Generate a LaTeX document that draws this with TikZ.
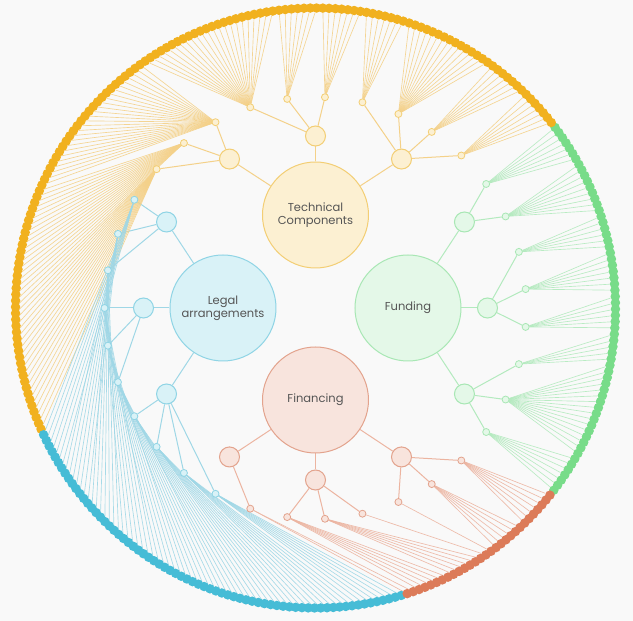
\documentclass[tikz,border=0pt]{standalone}
\usepackage{fontspec}
\setmainfont{Poppins}
\usetikzlibrary{calc}
\definecolor{pagebg}{HTML}{F9F9F9}
\definecolor{txtgray}{HTML}{555555}
\definecolor{techdot}{HTML}{F1B11F}
\definecolor{techline}{HTML}{F4D189}
\definecolor{techfill}{HTML}{FCF0D2}
\definecolor{techedge}{HTML}{F3CE74}
\definecolor{legaldot}{HTML}{46BCD6}
\definecolor{legalline}{HTML}{9FD7E6}
\definecolor{legalfill}{HTML}{D9F2F7}
\definecolor{legaledge}{HTML}{8FD4E5}
\definecolor{funddot}{HTML}{78DC89}
\definecolor{fundline}{HTML}{B3EABE}
\definecolor{fundfill}{HTML}{E4F8E8}
\definecolor{fundedge}{HTML}{A8E7B4}
\definecolor{findot}{HTML}{DC7B59}
\definecolor{finline}{HTML}{ECB4A0}
\definecolor{finfill}{HTML}{F8E4DD}
\definecolor{finedge}{HTML}{E3A38D}
\pgfdeclarelayer{back}
\pgfdeclarelayer{edges}
\pgfsetlayers{back,edges,main}
\newcount\leafno
\def\branchlist{0/fund/funding, 1/fund/funding, 2/tech/tc, 3/tech/tc, 4/tech/tc, 5/legal/legal, 6/legal/legal, 7/legal/legal, 8/fin/financing, 9/fin/financing, 10/fin/financing, 11/fund/funding}
\def\twiglist{0/0/fund, 1/0/fund, 2/1/fund, 3/1/fund, 4/2/tech, 5/2/tech, 6/2/tech, 7/2/tech, 8/3/tech, 9/3/tech, 10/3/tech, 11/4/tech, 12/4/tech, 13/4/tech, 14/5/legal, 15/5/legal, 16/5/legal, 17/6/legal, 18/6/legal, 19/6/legal, 20/7/legal, 21/7/legal, 22/7/legal, 23/7/legal, 24/8/fin, 25/9/fin, 26/9/fin, 27/9/fin, 28/10/fin, 29/10/fin, 30/10/fin, 31/11/fund, 32/11/fund, 33/11/fund, 34/0/fund}
\def\leaflist{31/7/fund, 32/16/fund, 33/5/fund, 34/6/fund, 0/7/fund, 1/6/fund, 2/9/fund, 3/7/fund,
  4/7/tech, 5/7/tech, 6/15/tech, 7/7/tech, 8/7/tech, 9/7/tech, 10/23/tech, 11/26/tech, 12/19/tech, 13/21/tech,
  14/7/legal, 15/7/legal, 16/7/legal, 17/7/legal, 18/6/legal, 19/7/legal, 20/6/legal, 21/8/legal, 22/7/legal, 23/7/legal,
  24/2/fin, 25/6/fin, 26/6/fin, 27/1/fin, 28/1/fin, 29/6/fin, 30/7/fin}

\begin{document}
\begin{tikzpicture}[x=1pt, y=1pt,
  topic/.style={circle, draw=#1edge, line width=1pt, fill=#1fill, minimum size=106pt, inner sep=0pt, align=center, font=\fontsize{11.5}{13}\selectfont, text=txtgray},
  branch/.style={circle, draw=#1edge, line width=1pt, fill=#1fill, minimum size=20pt, inner sep=0pt},
  twig/.style={circle, draw=#1edge, line width=0.8pt, fill=#1fill, minimum size=7pt, inner sep=0pt},
  leafdot/.style={circle, fill=#1dot, minimum size=9.5pt, inner sep=0pt},
  link/.style={draw=#1line, line width=1pt},
  spoke/.style={draw=#1line, line width=0.65pt, opacity=0.9}
]
  % Page
  \begin{pgfonlayer}{back}
    \fill[pagebg] (-315.5,-313) rectangle (317.5,308);
  \end{pgfonlayer}
  \useasboundingbox (-315.5,-313) rectangle (317.5,308);
  % Topics
  \node[topic=tech] (tc) at (90:93) {Technical\\Components};
  \node[topic=legal] (legal) at (180:92.5) {Legal\\arrangements};
  \node[topic=fund] (funding) at (0:92.5) {Funding};
  \node[topic=fin] (financing) at (270:92) {Financing};
  % Branches and twigs
  \foreach \j/\g/\p in \branchlist
    \node[branch=\g] (b\j) at (30*\j:172) {};
  \foreach \k/\j/\g in \twiglist{
    \pgfmathsetmacro\ang{(\k+0.5)*360/35}
    \node[twig=\g] (m\k) at (\ang:211) {};
  }
  % Leaves on the ring
  \global\leafno=0
  \foreach \k/\n/\g in \leaflist{
    \foreach \i in {1,...,\n}{
      \edef\lf{\the\leafno}
      \pgfmathsetmacro\ang{-37.4+1.2*\lf}
      \node[leafdot=\g] (leaf\lf) at (\ang:300) {};
      \global\advance\leafno by 1
    }
  }
  % Connectors
  \begin{pgfonlayer}{edges}
    \foreach \j/\g/\p in \branchlist
      \draw[link=\g] (\p) -- (b\j);
    \foreach \k/\j/\g in \twiglist
      \draw[link=\g] (b\j) -- (m\k);
    \global\leafno=0
    \foreach \k/\n/\g in \leaflist{
      \foreach \i in {1,...,\n}{
        \edef\lf{\the\leafno}
        \draw[spoke=\g] (m\k) -- (leaf\lf);
        \global\advance\leafno by 1
      }
    }
  \end{pgfonlayer}
\end{tikzpicture}
\end{document}
